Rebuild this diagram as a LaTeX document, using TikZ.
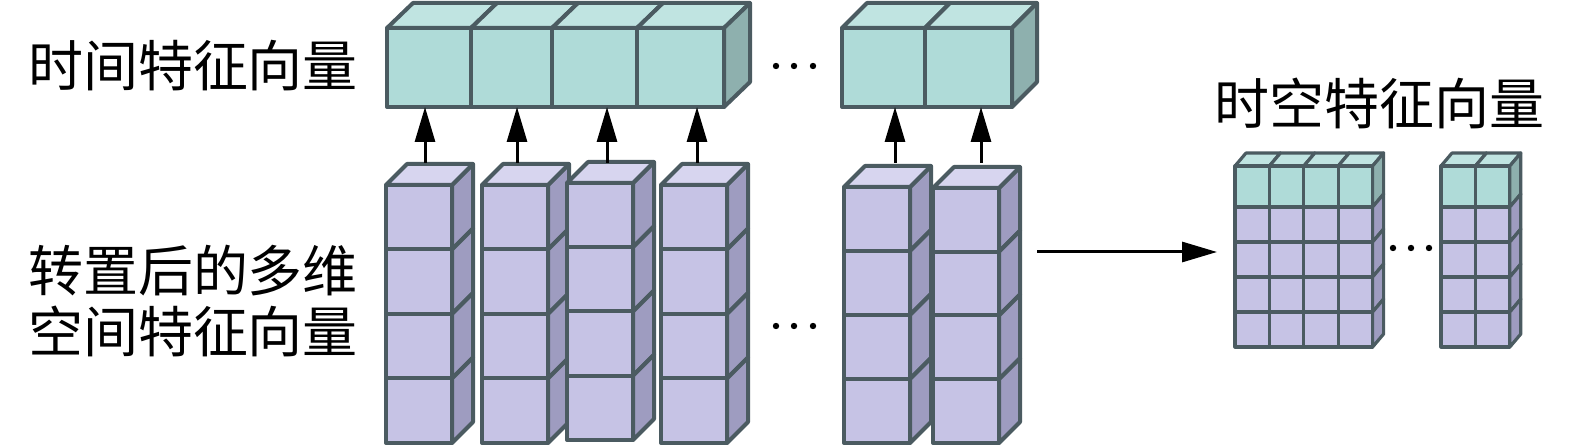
\documentclass[tikz,border=0pt]{standalone}
\usepackage{fontspec}
\newfontfamily\cjk{Noto Sans CJK SC}
\usetikzlibrary{arrows.meta}
\definecolor{tealF}{HTML}{AFDBD8}
\definecolor{tealT}{HTML}{C0E4E1}
\definecolor{tealS}{HTML}{8EB0AE}
\definecolor{purF}{HTML}{C6C3E5}
\definecolor{purT}{HTML}{D7D5EF}
\definecolor{purS}{HTML}{9E9CC0}
\definecolor{edge}{HTML}{4B5B61}
\tikzset{
  cf/.style={draw=edge,line width=4pt,line join=round},
  cfs/.style={draw=edge,line width=3.2pt,line join=round},
  arr/.style={draw=black,line width=3pt,-{Triangle[length=35pt,width=20pt]}},
  lbl/.style={font=\cjk\fontsize{55pt}{60pt}\selectfont,inner sep=0pt,text=black},
  dotc/.style={fill=black}
}
% front face: x y w h color style
\newcommand{\cellF}[6]{\path[#6,fill=#5] ({#1},{#2}) rectangle ++({#3},{#4});}
% top face: x y w dx dy color style
\newcommand{\cellT}[7]{\path[#7,fill=#6] ({#1},{#2}) -- ++({#4},{-(#5)}) -- ++({#3},0) -- ++({-(#4)},{#5}) -- cycle;}
% side face: x(right edge) y h dx dy color style
\newcommand{\cellS}[7]{\path[#7,fill=#6] ({#1},{#2}) -- ++({#4},{-(#5)}) -- ++(0,{#3}) -- ++({-(#4)},{#5}) -- cycle;}
% column of 4 purple cubes: x ytop cellh
\newcommand{\pcol}[3]{%
  \foreach \i in {0,1,2,3}{%
    \cellF{#1}{#2+\i*#3}{66}{#3}{purF}{cf}
    \cellS{#1+66}{#2+\i*#3}{#3}{21}{21}{purS}{cf}
  }
  \cellT{#1}{#2}{66}{21}{21}{purT}{cf}
}
% spatio-temporal block: x ncols
\newcommand{\stblock}[2]{%
  \foreach \j in {1,...,#2}{%
    \cellT{#1+(\j-1)*34.4}{166}{34.4}{11}{13}{tealT}{cfs}
    \cellF{#1+(\j-1)*34.4}{166}{34.4}{41}{tealF}{cfs}
    \foreach \r in {0,1,2,3}{%
      \cellF{#1+(\j-1)*34.4}{207+\r*35}{34.4}{35}{purF}{cfs}
    }
  }
  \cellS{#1+#2*34.4}{166}{41}{11}{13}{tealS}{cfs}
  \foreach \r in {0,1,2,3}{%
    \cellS{#1+#2*34.4}{207+\r*35}{35}{11}{13}{purS}{cfs}
  }
}
\begin{document}
\begin{tikzpicture}[x=1pt,y=-1pt]
\useasboundingbox (0,0) rectangle (1575,446);

% labels
\node[lbl] (ltime) at (193,66) {时间特征向量};
\node[lbl] (lsp1) at (193,271) {转置后的多维};
\node[lbl] (lsp2) at (193,331) {空间特征向量};
\node[lbl] (lst) at (1379,103) {时空特征向量};

% top temporal bar (left part)
\foreach \a/\b in {387/471,471/552,552/637,637/724}{%
  \cellT{\a}{28}{\b-\a}{26}{25}{tealT}{cf}
  \cellF{\a}{28}{\b-\a}{79}{tealF}{cf}
}
\cellS{724}{28}{79}{26}{25}{tealS}{cf}
% top temporal bar (right part)
\foreach \a/\b in {842/925,925/1012}{%
  \cellT{\a}{28}{\b-\a}{25}{25}{tealT}{cf}
  \cellF{\a}{28}{\b-\a}{79}{tealF}{cf}
}
\cellS{1012}{28}{79}{25}{25}{tealS}{cf}

% columns
\pcol{386}{185}{64.5}
\pcol{482}{185}{64.5}
\pcol{567}{183}{64.25}
\pcol{661}{185}{64.5}
\pcol{844}{187}{64}
\pcol{933}{188}{63.75}

% arrows from columns to bar
\foreach \n/\x in {1/425,2/517,3/607,4/697,5/895,6/981}{%
  \coordinate (cs\n) at (\x,163);
  \coordinate (ct\n) at (\x,107);
  \draw[arr] (cs\n) -- (ct\n);
}

% dots
\foreach \x in {776,794,813}{%
  \fill[dotc] (\x,66) circle (3.2);
  \fill[dotc] (\x,326) circle (3.2);
}
\foreach \x in {1393,1411,1429}{%
  \fill[dotc] (\x,248) circle (3.2);
}

% horizontal arrow
\coordinate (hs) at (1037,252);
\coordinate (he) at (1217,252);
\draw[arr] (hs) -- (he);

% spatio-temporal blocks
\stblock{1235}{4}
\stblock{1441}{2}
\end{tikzpicture}
\end{document}
